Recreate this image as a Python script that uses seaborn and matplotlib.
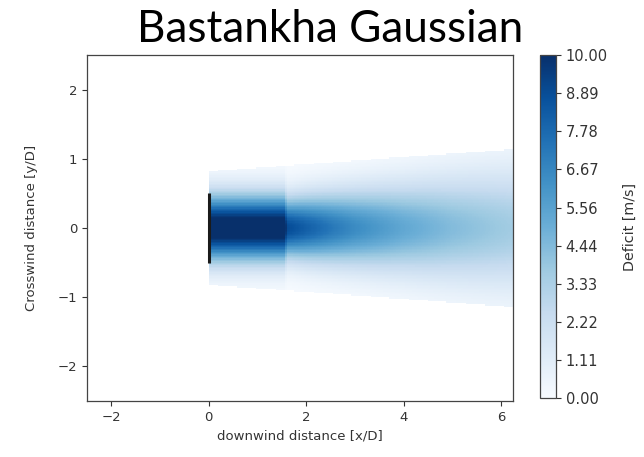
import numpy as np
import pandas as pd
import matplotlib
matplotlib.use("Agg")
import matplotlib.pyplot as plt
import seaborn as sns

# Domain of the flow field, in rotor diameters
x_range = [-2.5, 6.25]
y_range = [-2.5, 2.5]

# Wake stations downstream of the rotor: centreline deficit [m/s] and Gaussian width [y/D]
wake_x = [0.0, 1.57, 1.60, 2.0, 2.5, 3.0, 3.5, 4.0, 5.0, 6.25]
wake_peak = [11.0, 11.0, 9.0, 8.2, 7.3, 6.5, 5.9, 5.3, 4.4, 3.6]
wake_sigma = [0.33, 0.33, 0.30, 0.33, 0.36, 0.39, 0.42, 0.45, 0.52, 0.60]

# Outer edge of the computed wake region
edge_x = [0.0, 6.25]
edge_half = [0.82, 1.14]

# Rotor disk
rotor_x = [0.0, 0.0]
rotor_y = [-0.5, 0.5]

x_ticks = [-2, 0, 2, 4, 6]
y_ticks = [-2, -1, 0, 1, 2]
cbar_ticks = np.linspace(0, 10, 10)

nx, ny = 350, 250
dx = (x_range[1] - x_range[0]) / nx
dy = (y_range[1] - y_range[0]) / ny
xc = x_range[0] + (np.arange(nx) + 0.5) * dx
yc = y_range[1] - (np.arange(ny) + 0.5) * dy  # top row first

peak = np.interp(xc, wake_x, wake_peak)
sig = np.interp(xc, wake_x, wake_sigma)
half = np.interp(xc, edge_x, edge_half)

X, Y = np.meshgrid(xc, yc)
P = np.broadcast_to(peak, X.shape)
S = np.broadcast_to(sig, X.shape)
H = np.broadcast_to(half, X.shape)
deficit = P * np.exp(-Y**2 / (2 * S**2))
outside = (X < 0) | (np.abs(Y) > H)
deficit[outside] = 0.0

field = pd.DataFrame(deficit, index=np.round(yc, 3), columns=np.round(xc, 3))

fig = plt.figure(figsize=(6.44, 4.57), dpi=100)
ax = fig.add_axes([0.135, 0.1225, 0.662, 0.757])
cax = fig.add_axes([0.8385, 0.129, 0.0248, 0.7505])

sns.heatmap(field, ax=ax, cbar_ax=cax, cmap="Blues", vmin=0, vmax=10, mask=outside,
            xticklabels=False, yticklabels=False, rasterized=True,
            cbar_kws={"ticks": cbar_ticks, "format": "%.2f"})


def to_col(x):
    return (np.asarray(x, dtype=float) - x_range[0]) / dx


def to_row(y):
    return (y_range[1] - np.asarray(y, dtype=float)) / dy


ax.plot(to_col(rotor_x), to_row(rotor_y), color="#1a1a1a", lw=2.2, solid_capstyle="butt")

ax.set_xticks(to_col(x_ticks))
ax.set_xticklabels([f"{t}".replace("-", "\u2212") for t in x_ticks], rotation=0)
ax.set_yticks(to_row(y_ticks))
ax.set_yticklabels([f"{t}".replace("-", "\u2212") for t in y_ticks], rotation=0)
ax.tick_params(axis="both", length=3.5, width=0.8, labelsize=9.5, colors="#333333",
               labelcolor="#333333", bottom=True, left=True)
for s in ax.spines.values():
    s.set_visible(True)
    s.set_color("#444444")
    s.set_linewidth(0.9)

ax.set_xlabel("downwind distance [x/D]", fontsize=9.5, color="#333333")
ax.set_ylabel("Crosswind distance [y/D]", fontsize=9.5, color="#333333", labelpad=14)

cb = ax.collections[0].colorbar
cb.outline.set_visible(True)
cb.outline.set_linewidth(0.9)
cb.outline.set_edgecolor("#444444")
cb.ax.tick_params(labelsize=10.5, length=3.5, width=0.8, colors="#333333", labelcolor="#333333")
cb.set_label("Deficit [m/s]", fontsize=10.3, color="#333333", labelpad=11)

fig.text(0.512, 0.908, "Bastankha Gaussian", ha="center", va="baseline",
         fontsize=31.8, family=["Lato", "DejaVu Sans"], color="black")

fig.savefig("out.png", dpi=100, facecolor="white")
